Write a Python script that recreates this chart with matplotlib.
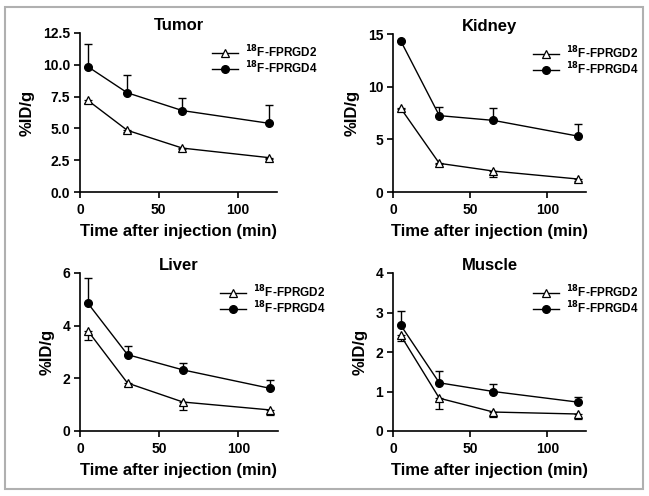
import matplotlib.pyplot as plt
from matplotlib.patches import Rectangle
from matplotlib.lines import Line2D

plt.rcParams['font.family'] = ['Liberation Sans', 'DejaVu Sans']
plt.rcParams['font.weight'] = 'bold'

t = [5, 30, 65, 120]

titles = ['Tumor', 'Kidney', 'Liver', 'Muscle']

# FPRGD2 (open triangles, lower error only)
rgd2 = {
    'Tumor': [7.2, 4.85, 3.45, 2.7],
    'Kidney': [7.95, 2.72, 1.99, 1.23],
    'Liver': [3.8, 1.82, 1.1, 0.8],
    'Muscle': [2.42, 0.83, 0.48, 0.43],
}
rgd2_err = {
    'Tumor': [0.2, 0.1, 0.1, 0.1],
    'Kidney': [0.1, 0.1, 0.55, 0.2],
    'Liver': [0.35, 0.12, 0.3, 0.2],
    'Muscle': [0.15, 0.28, 0.13, 0.13],
}
# FPRGD4 (filled circles, upper error only)
rgd4 = {
    'Tumor': [9.85, 7.8, 6.4, 5.4],
    'Kidney': [14.35, 7.25, 6.8, 5.3],
    'Liver': [4.85, 2.9, 2.32, 1.62],
    'Muscle': [2.68, 1.22, 1.0, 0.73],
}
rgd4_err = {
    'Tumor': [1.8, 1.4, 1.0, 1.45],
    'Kidney': [0.0, 0.8, 1.2, 1.15],
    'Liver': [0.95, 0.33, 0.26, 0.33],
    'Muscle': [0.37, 0.3, 0.2, 0.12],
}

ylims = {'Tumor': 12.5, 'Kidney': 15, 'Liver': 6, 'Muscle': 4}
yticks = {
    'Tumor': [0, 2.5, 5.0, 7.5, 10.0, 12.5],
    'Kidney': [0, 5, 10, 15],
    'Liver': [0, 2, 4, 6],
    'Muscle': [0, 1, 2, 3, 4],
}
yfmt = {'Tumor': '{:.1f}', 'Kidney': '{:g}', 'Liver': '{:g}', 'Muscle': '{:g}'}

# axes boxes in pixels (left, right, bottom, top) of a 649x496 canvas
boxes = {
    'Tumor': (80, 277, 192, 33),
    'Kidney': (393, 586, 192, 34),
    'Liver': (80, 278, 431, 273),
    'Muscle': (393, 586, 431, 273),
}
leg_x = {'Tumor': 0.67, 'Kidney': 0.725, 'Liver': 0.705, 'Muscle': 0.725}

W, H = 649, 496
fig = plt.figure(figsize=(W / 100, H / 100), dpi=100)
fig.patches.append(Rectangle((5 / W, 7 / H), 638 / W, 482 / H, transform=fig.transFigure,
                             fill=False, edgecolor='#b0b0b0', linewidth=1.5))

handles = [
    Line2D([], [], color='black', lw=1, marker='^', ms=5.5, mfc='white', mec='black', mew=0.9),
    Line2D([], [], color='black', lw=1, marker='o', ms=5.5, mfc='black', mec='black'),
]
labels = [r'$^{\mathbf{18}}$F-FPRGD2', r'$^{\mathbf{18}}$F-FPRGD4']

for name in titles:
    l, r, b, tp = boxes[name]
    ax = fig.add_axes([l / W, 1 - b / H, (r - l) / W, (b - tp) / H])
    ax.errorbar(t, rgd2[name], yerr=[rgd2_err[name], [0] * 4], color='black', lw=1,
                marker='^', ms=5.5, mfc='white', mec='black', mew=0.9,
                capsize=3, capthick=1, elinewidth=1)
    ax.errorbar(t, rgd4[name], yerr=[[0] * 4, rgd4_err[name]], color='black', lw=1,
                marker='o', ms=5.5, mfc='black', mec='black',
                capsize=3, capthick=1, elinewidth=1)
    ax.set_xlim(0, 125)
    ax.set_ylim(0, ylims[name])
    ax.set_xticks([0, 50, 100])
    ax.set_yticks(yticks[name])
    ax.set_yticklabels([yfmt[name].format(v) for v in yticks[name]])
    ax.spines['top'].set_visible(False)
    ax.spines['right'].set_visible(False)
    ax.spines['left'].set_linewidth(1.2)
    ax.spines['bottom'].set_linewidth(1.2)
    ax.tick_params(direction='out', length=4, width=1.2, labelsize=10)
    ax.tick_params(axis='x', pad=4)
    ax.tick_params(axis='y', pad=3)
    ax.set_title(name, fontsize=12, fontweight='bold', pad=0)
    ax.set_xlabel('Time after injection (min)', fontsize=12, fontweight='bold', labelpad=5)
    ax.set_ylabel('%ID/g', fontsize=12, fontweight='bold', labelpad=6)
    ax.legend(handles, labels, loc='upper left', bbox_to_anchor=(leg_x[name], 0.935),
              frameon=False, fontsize=8.5, handlelength=2.2, handletextpad=0.6,
              borderpad=0, labelspacing=0.0, borderaxespad=0)

fig.savefig('out.png', dpi=100)
